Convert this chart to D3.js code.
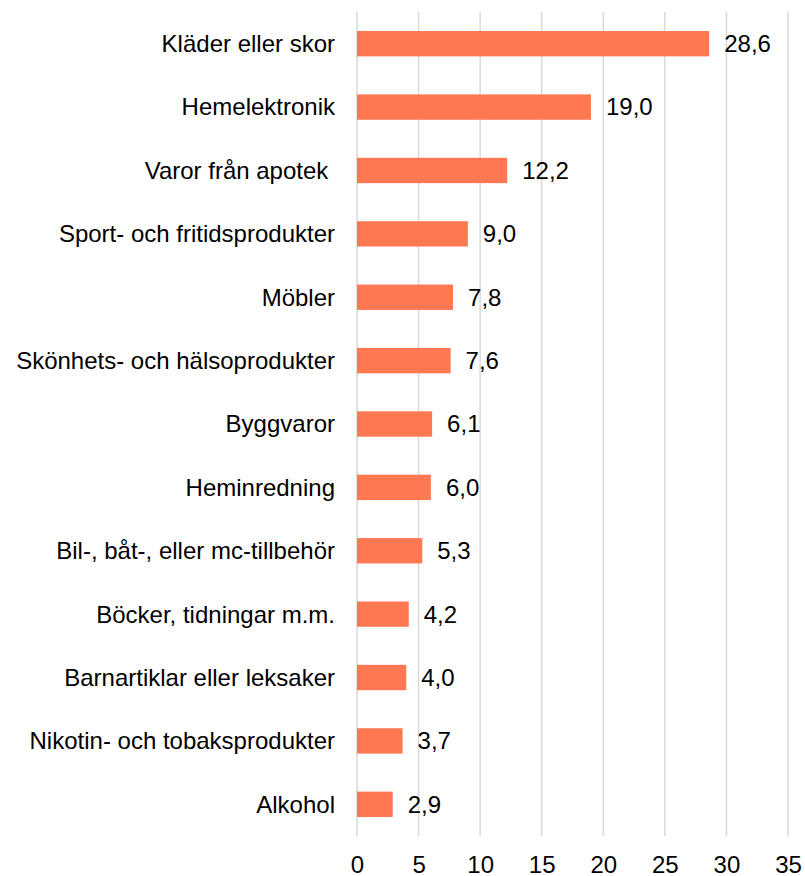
<!DOCTYPE html>
<html>
<head>
<meta charset="utf-8">
<script src="https://cdn.jsdelivr.net/npm/d3@7"></script>
<style>
  body { margin: 0; background: #fff; }
  text { font-family: Arial, "Liberation Sans", sans-serif; fill: #000; }
</style>
</head>
<body>
<div id="chart"></div>
<script>
// data
const categories = [
  'Kläder eller skor',
  'Hemelektronik',
  'Varor från apotek ',
  'Sport- och fritidsprodukter',
  'Möbler',
  'Skönhets- och hälsoprodukter',
  'Byggvaror',
  'Heminredning',
  'Bil-, båt-, eller mc-tillbehör',
  'Böcker, tidningar m.m.',
  'Barnartiklar eller leksaker',
  'Nikotin- och tobaksprodukter',
  'Alkohol'
];
const values = [28.6, 19.0, 12.2, 9.0, 7.8, 7.6, 6.1, 6.0, 5.3, 4.2, 4.0, 3.7, 2.9];
const xTicks = [0, 5, 10, 15, 20, 25, 30, 35];

const data = categories.map((c, i) => ({ name: c, value: values[i] }));

// dimensions
const WIDTH = 805;
const HEIGHT = 876;
const PLOT_LEFT = 357;
const PLOT_RIGHT = 788;
const PLOT_TOP = 12;
const PLOT_BOTTOM = 836;
const FONT = 24;

const fmt = d3.format('.1f');
const comma = v => fmt(v).replace('.', ',');

const $svg = d3.select('#chart').append('svg')
  .attr('width', WIDTH)
  .attr('height', HEIGHT);

const x = d3.scaleLinear().domain([0, 35]).range([PLOT_LEFT, PLOT_RIGHT]);
const y = d3.scaleBand()
  .domain(categories)
  .range([PLOT_TOP, PLOT_BOTTOM])
  .paddingInner(0.6)
  .paddingOuter(0.3);

// gridlines
$svg.append('g').attr('class', 'grid')
  .selectAll('line')
  .data(xTicks)
  .join('line')
  .attr('x1', d => x(d))
  .attr('x2', d => x(d))
  .attr('y1', PLOT_TOP)
  .attr('y2', PLOT_BOTTOM)
  .attr('stroke', '#d9d9d9')
  .attr('stroke-width', 1.5);

// x axis labels
const $xAxis = $svg.append('g')
  .attr('transform', `translate(0,${PLOT_BOTTOM + 20})`)
  .call(d3.axisBottom(x).tickValues(xTicks).tickSize(0).tickPadding(0).tickFormat(d3.format('d')))
  .call(g => g.select('.domain').remove());
$xAxis.selectAll('text')
  .attr('font-size', FONT)
  .attr('font-family', 'Arial, "Liberation Sans", sans-serif')
  .attr('fill', '#000')
  .attr('dy', '0.71em');

// bars
$svg.append('g').attr('class', 'bars')
  .selectAll('rect')
  .data(data)
  .join('rect')
  .attr('x', x(0))
  .attr('y', d => y(d.name))
  .attr('width', d => x(d.value) - x(0))
  .attr('height', y.bandwidth())
  .attr('fill', '#ff7851');

// category labels
$svg.append('g').attr('class', 'cat-labels')
  .selectAll('text')
  .data(data)
  .join('text')
  .attr('x', PLOT_LEFT - 22)
  .attr('y', d => y(d.name) + y.bandwidth() / 2)
  .attr('dy', '0.35em')
  .attr('text-anchor', 'end')
  .attr('font-size', FONT)
  .style('white-space', 'pre')
  .text(d => d.name);

// value labels
$svg.append('g').attr('class', 'val-labels')
  .selectAll('text')
  .data(data)
  .join('text')
  .attr('x', d => x(d.value) + 15)
  .attr('y', d => y(d.name) + y.bandwidth() / 2)
  .attr('dy', '0.35em')
  .attr('font-size', FONT)
  .text(d => comma(d.value));
</script>
</body>
</html>
